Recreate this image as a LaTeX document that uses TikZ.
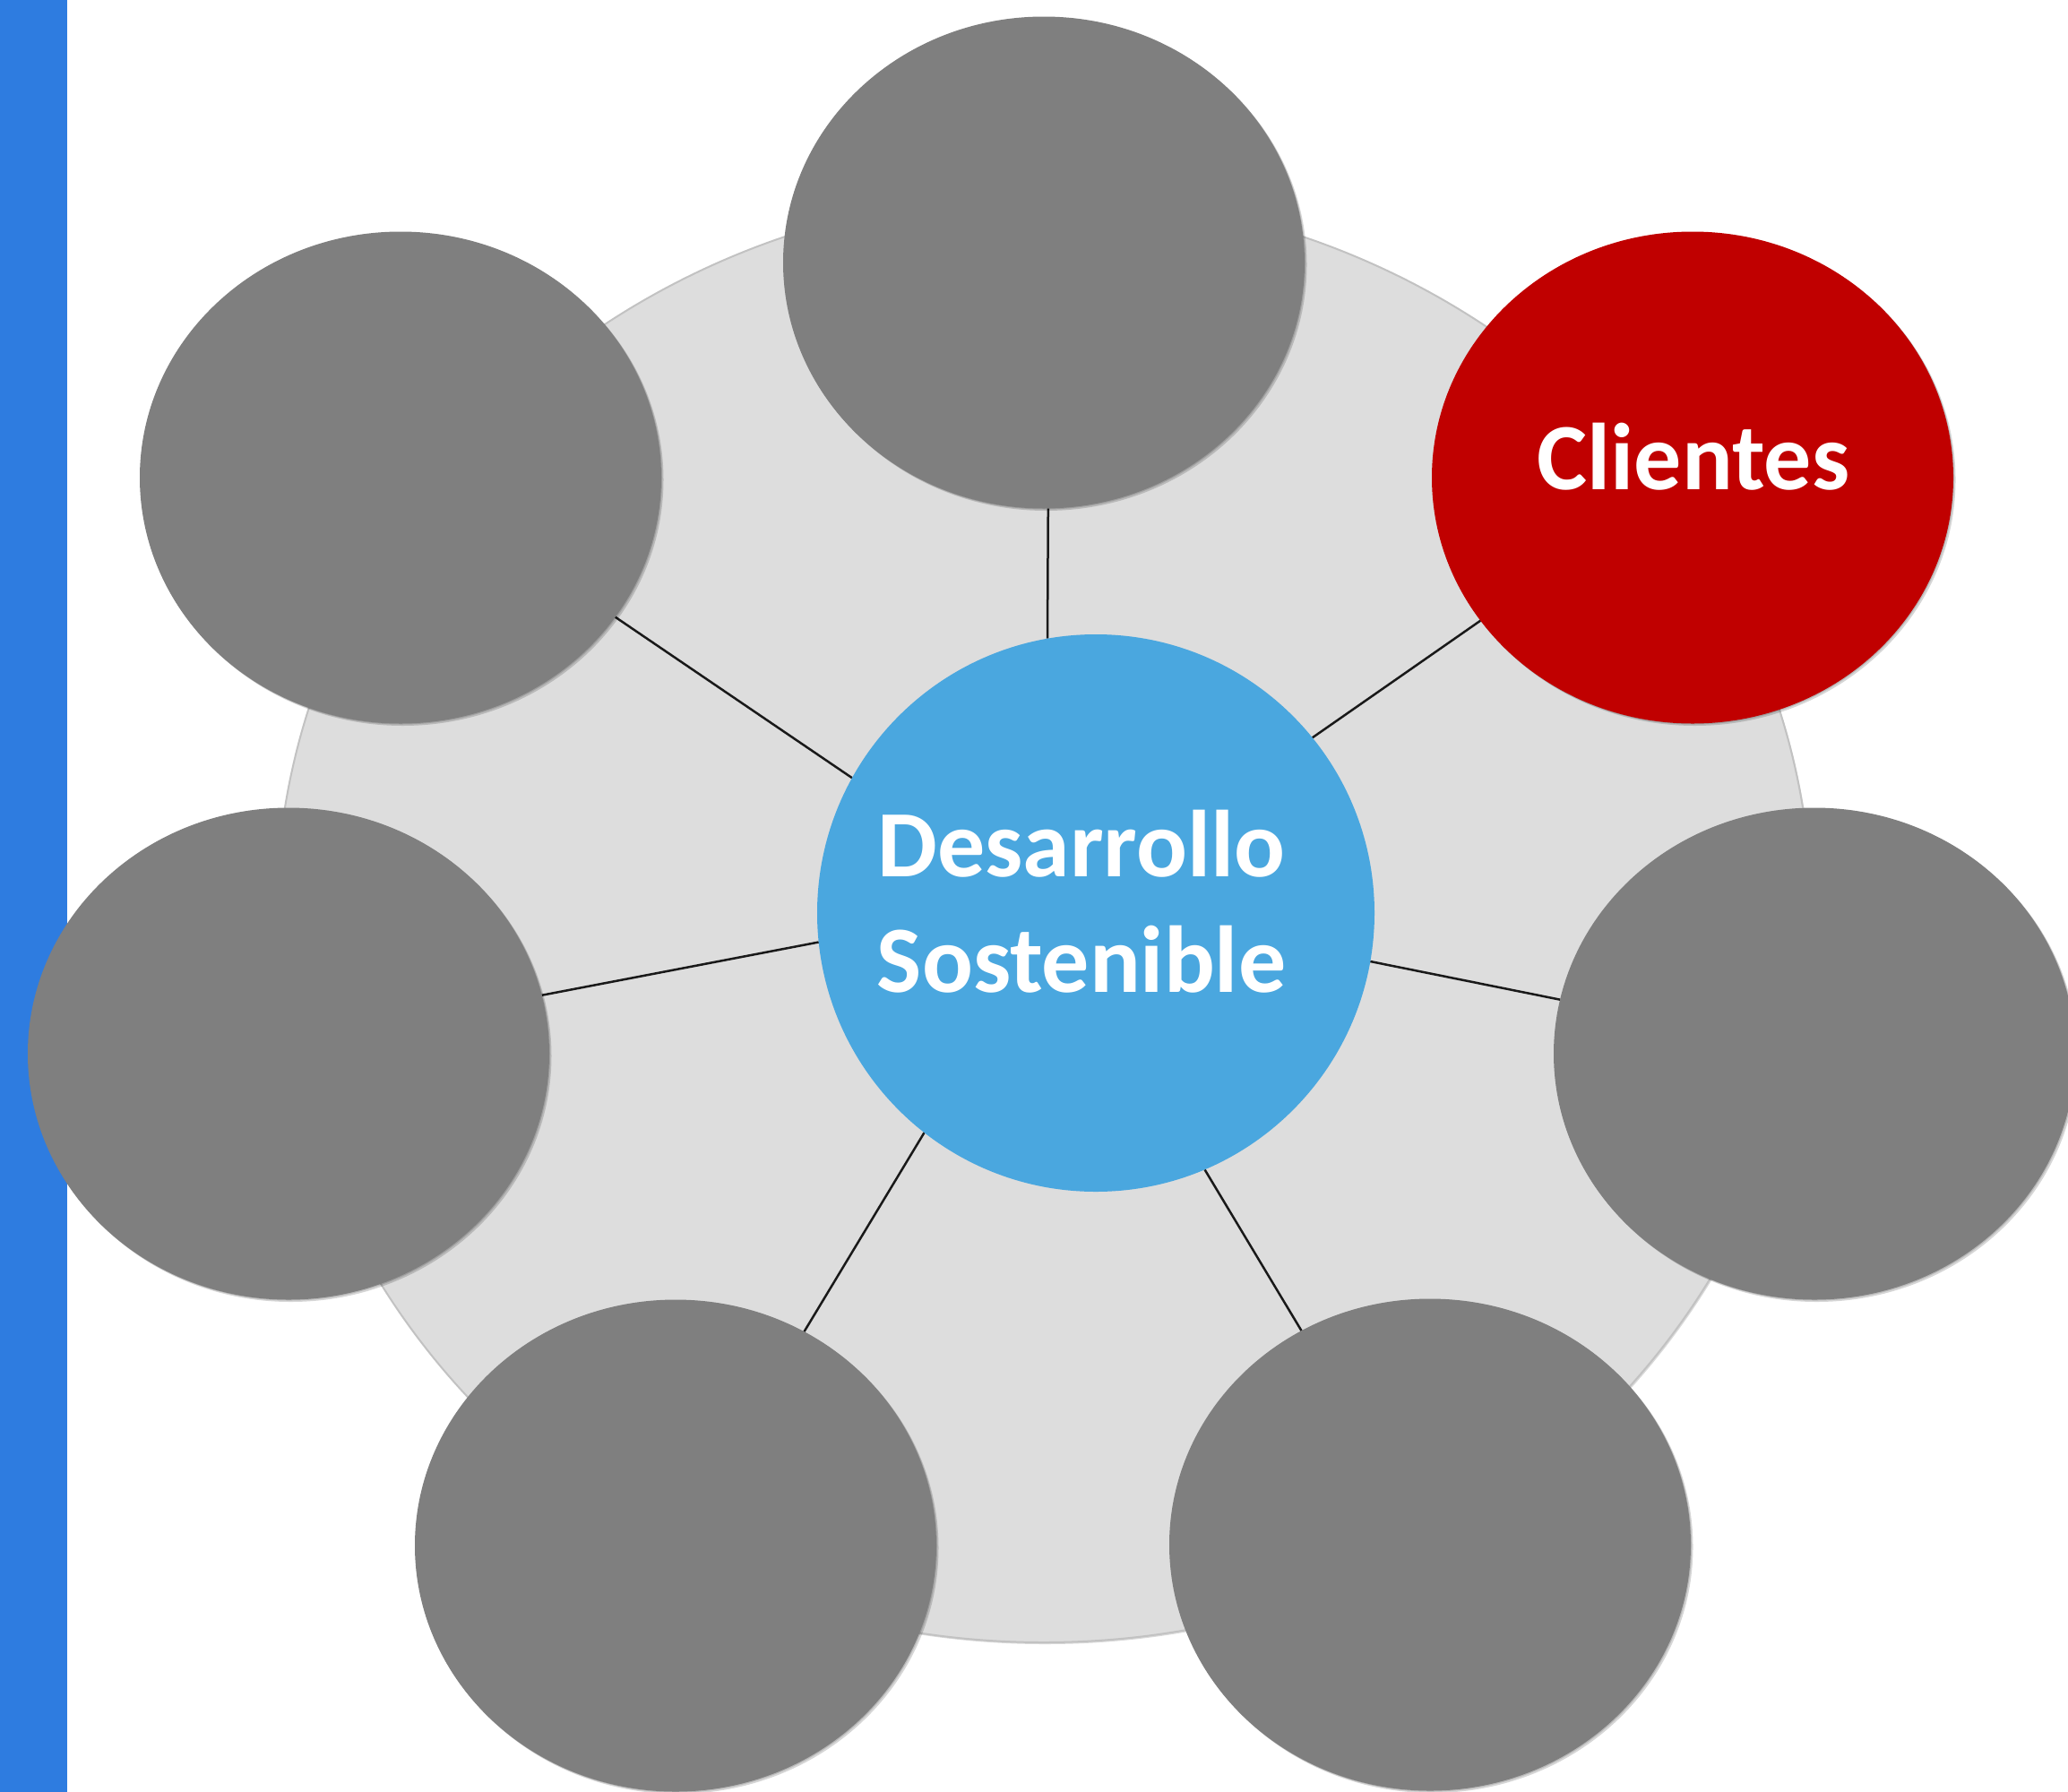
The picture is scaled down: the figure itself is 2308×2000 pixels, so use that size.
\documentclass[tikz,border=0pt]{standalone}
\usepackage{fontspec}
\setmainfont{Carlito}
\usetikzlibrary{shapes.geometric,shadows}
\definecolor{barblue}{HTML}{2E7CE0}
\definecolor{ringgray}{HTML}{DDDDDD}
\definecolor{ringedge}{HTML}{C2C2C2}
\definecolor{bubgray}{HTML}{7F7F7F}
\definecolor{bubred}{HTML}{C00000}
\definecolor{hubblue}{HTML}{4AA7DF}
\pgfdeclarelayer{bg}
\pgfdeclarelayer{lines}
\pgfsetlayers{bg,lines,main}
\begin{document}
\begin{tikzpicture}[x=1pt,y=-1pt,
  softshadow/.style={drop shadow={shadow xshift=2.5pt,shadow yshift=-2.5pt,opacity=.16,fill=black},
                     drop shadow={shadow xshift=1pt,shadow yshift=-1pt,opacity=.14,fill=black}},
  bubble/.style={ellipse,minimum width=582pt,minimum height=549pt,inner sep=0pt,outer sep=0pt,fill=bubgray,softshadow},
  hub/.style={circle,minimum size=622pt,inner sep=0pt,outer sep=0pt,fill=hubblue},
  ringstyle/.style={ellipse,minimum width=1714pt,minimum height=1616pt,inner sep=0pt,outer sep=0pt,
                    fill=ringgray,draw=ringedge,line width=2pt,
                    drop shadow={shadow xshift=1.5pt,shadow yshift=-2pt,opacity=.15,fill=black}},
  link/.style={line width=2.5pt,draw=black!90},
  lbl/.style={font=\bfseries\fontsize{106}{128}\selectfont,text=white,anchor=base,inner sep=0pt}]
\useasboundingbox (0,0) rectangle (2308,2000);
\begin{pgfonlayer}{bg}
  \fill[barblue] (0,0) rectangle (75,2000);
  \node[ringstyle] (ring) at (1165,1025) {};
\end{pgfonlayer}
\node[hub] (C) at (1223,1019) {};
\node[bubble] (T) at (1165,293) {};
\node[bubble] (TL) at (447,533) {};
\node[bubble,fill=bubred] (TR) at (1889,533) {};
\node[bubble] (L) at (322,1176) {};
\node[bubble] (R) at (2025,1176) {};
\node[bubble] (BL) at (754,1725) {};
\node[bubble] (BR) at (1596,1724) {};
\begin{pgfonlayer}{lines}
  \draw[link] (T.-89) -- (C.100);
  \draw[link] (TL.-33) -- (C.151);
  \draw[link] (TR.214) -- (C.39);
  \draw[link] (L.13) -- (C.186);
  \draw[link] (R.168) -- (C.-10);
  \draw[link] (BL.59) -- (C.232);
  \draw[link] (BR.121) -- (C.-67);
\end{pgfonlayer}
\node[lbl] (t1) at (1207,978) {Desarrollo};
\node[lbl] (t2) at (1207,1107) {Sostenible};
\node[lbl] (t3) at (1890,546) {Clientes};
\end{tikzpicture}
\end{document}
